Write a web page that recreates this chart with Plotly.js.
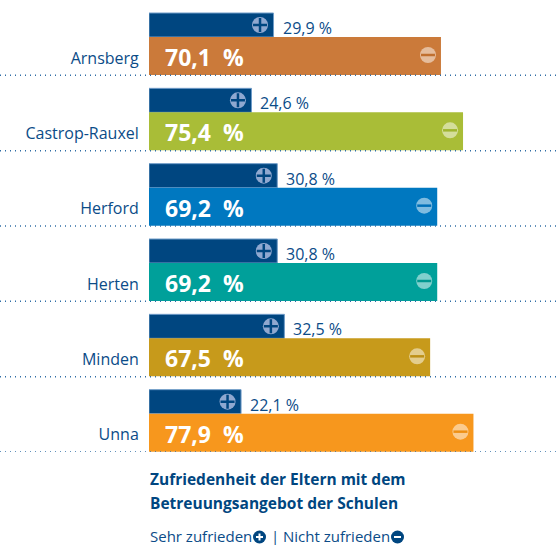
<!DOCTYPE html>
<html>
<head>
<meta charset="utf-8">
<script src="https://cdn.plot.ly/plotly-3.0.1.min.js"></script>
<style>html,body{margin:0;padding:0;background:#fff}</style>
</head>
<body>
<div id="chart" style="width:558px;height:545px"></div>
<script>
const cities = ["Arnsberg","Castrop-Rauxel","Herford","Herten","Minden","Unna"];
const sehrZufrieden = [29.9,24.6,30.8,30.8,32.5,22.1];
const nichtZufrieden = [70.1,75.4,69.2,69.2,67.5,77.9];
const barColors = ["#CB7A3A","#A9BD37","#0078C0","#00A09A","#C79A1B","#F7971D"];
const minusInk = ["#C07030","#9FB52F","#0070B8","#009890","#BD9015","#EE9015"];
const titleLines = ["Zufriedenheit der Eltern mit dem","Betreuungsangebot der Schulen"];
const legendPlus = "Sehr zufrieden";
const legendMinus = "Nicht zufrieden";

const W=558,H=545,L=149,B=452;
const navy="#004680", ink="#0B4C88";
const pxPerUnit=4.165, pitch=B/6, labelY=58;
const idx=cities.map((_,i)=>i);
const fmt=v=>v.toFixed(1).replace(".",",");
const font="'Open Sans', sans-serif";
const py=px=>(B-px)/B, pxx=px=>(px-L)/(W-L);

const traces=[
 {type:"bar",orientation:"h",x:sehrZufrieden,y:idx,base:0,offset:-45/pitch,width:24/pitch,
  marker:{color:navy,line:{color:"#6F9CC8",width:1}},hoverinfo:"skip"},
 {type:"bar",orientation:"h",x:nichtZufrieden,y:idx,base:0,offset:-21/pitch,width:38/pitch,
  marker:{color:barColors,line:{width:0}},hoverinfo:"skip"},
 {type:"scatter",mode:"markers",x:sehrZufrieden.map(v=>v-13.5/pxPerUnit),y:idx.map(i=>i-33/pitch),
  marker:{symbol:"circle",size:16,color:"#8FA8D0",line:{width:0}},hoverinfo:"skip"},
 {type:"scatter",mode:"markers",x:sehrZufrieden.map(v=>v-13.5/pxPerUnit),y:idx.map(i=>i-33/pitch),
  marker:{symbol:"cross-thin",size:10,line:{color:navy,width:2.5}},hoverinfo:"skip"},
 {type:"scatter",mode:"markers",x:nichtZufrieden.map(v=>v-13/pxPerUnit),y:idx.map(i=>i-3/pitch),
  marker:{symbol:"circle",size:16,color:"rgba(255,255,255,0.5)",line:{width:0}},hoverinfo:"skip"},
 {type:"scatter",mode:"markers",x:nichtZufrieden.map(v=>v-13/pxPerUnit),y:idx.map(i=>i-3/pitch),
  marker:{symbol:"line-ew",size:10,line:{color:minusInk,width:2.5}},hoverinfo:"skip"}
];

const annotations=[];
idx.forEach(i=>{
 annotations.push({x:sehrZufrieden[i],y:i,xref:"x",yref:"y",xanchor:"left",yanchor:"middle",xshift:7,yshift:30,
  text:fmt(sehrZufrieden[i])+" %",showarrow:false,font:{family:font,size:16,color:ink}});
 annotations.push({x:0,y:i,xref:"x",yref:"y",xanchor:"left",yanchor:"middle",xshift:14,yshift:1,
  text:"<b>"+fmt(nichtZufrieden[i])+"\u00a0 %</b>",showarrow:false,font:{family:font,size:23,color:"#fff"}});
});
titleLines.forEach((t,k)=>annotations.push({xref:"paper",yref:"paper",x:pxx(148),y:py(479+k*24.5),xanchor:"left",yanchor:"middle",
  text:"<b>"+t+"</b>",showarrow:false,font:{family:font,size:15.5,color:navy}}));
annotations.push({xref:"paper",yref:"paper",x:pxx(148),y:py(536),xanchor:"left",yanchor:"middle",text:legendPlus,showarrow:false,font:{family:font,size:15,color:ink}});
annotations.push({xref:"paper",yref:"paper",x:pxx(269),y:py(536),xanchor:"left",yanchor:"middle",text:"|",showarrow:false,font:{family:font,size:15,color:ink}});
annotations.push({xref:"paper",yref:"paper",x:pxx(281),y:py(536),xanchor:"left",yanchor:"middle",text:legendMinus,showarrow:false,font:{family:font,size:15,color:ink}});

const shapes=idx.map(i=>({type:"line",xref:"paper",yref:"y",x0:-L/(W-L),x1:1,y0:i+17.33/pitch,y1:i+17.33/pitch,
  line:{color:"#2F6DA5",width:1.5,dash:"1px 4px"},layer:"above"}));
function icon(cx,cy,plus){
 const r=6.5;
 shapes.push({type:"circle",xref:"paper",yref:"paper",x0:pxx(cx-r),x1:pxx(cx+r),y0:py(cy+r),y1:py(cy-r),fillcolor:navy,line:{width:0}});
 shapes.push({type:"line",xref:"paper",yref:"paper",x0:pxx(cx-3.5),x1:pxx(cx+3.5),y0:py(cy),y1:py(cy),line:{color:"#fff",width:2}});
 if(plus) shapes.push({type:"line",xref:"paper",yref:"paper",x0:pxx(cx),x1:pxx(cx),y0:py(cy-3.5),y1:py(cy+3.5),line:{color:"#fff",width:2}});
}
icon(259.5,537,true); icon(397.5,537,false);

const layout={
 width:W,height:H,margin:{l:L,r:0,t:0,b:H-B,pad:0},
 paper_bgcolor:"#fff",plot_bgcolor:"#fff",showlegend:false,barmode:"overlay",
 xaxis:{range:[0,(W-L)/pxPerUnit],visible:false,fixedrange:true},
 yaxis:{range:[(B-labelY)/pitch,-labelY/pitch],tickmode:"array",tickvals:idx,ticktext:cities,
  showgrid:false,zeroline:false,showline:false,ticks:"outside",ticklen:6,tickcolor:"rgba(0,0,0,0)",
  tickfont:{family:font,size:16,color:ink},fixedrange:true},
 annotations,shapes
};
Plotly.newPlot("chart",traces,layout,{displayModeBar:false,staticPlot:true});
</script>
</body>
</html>
